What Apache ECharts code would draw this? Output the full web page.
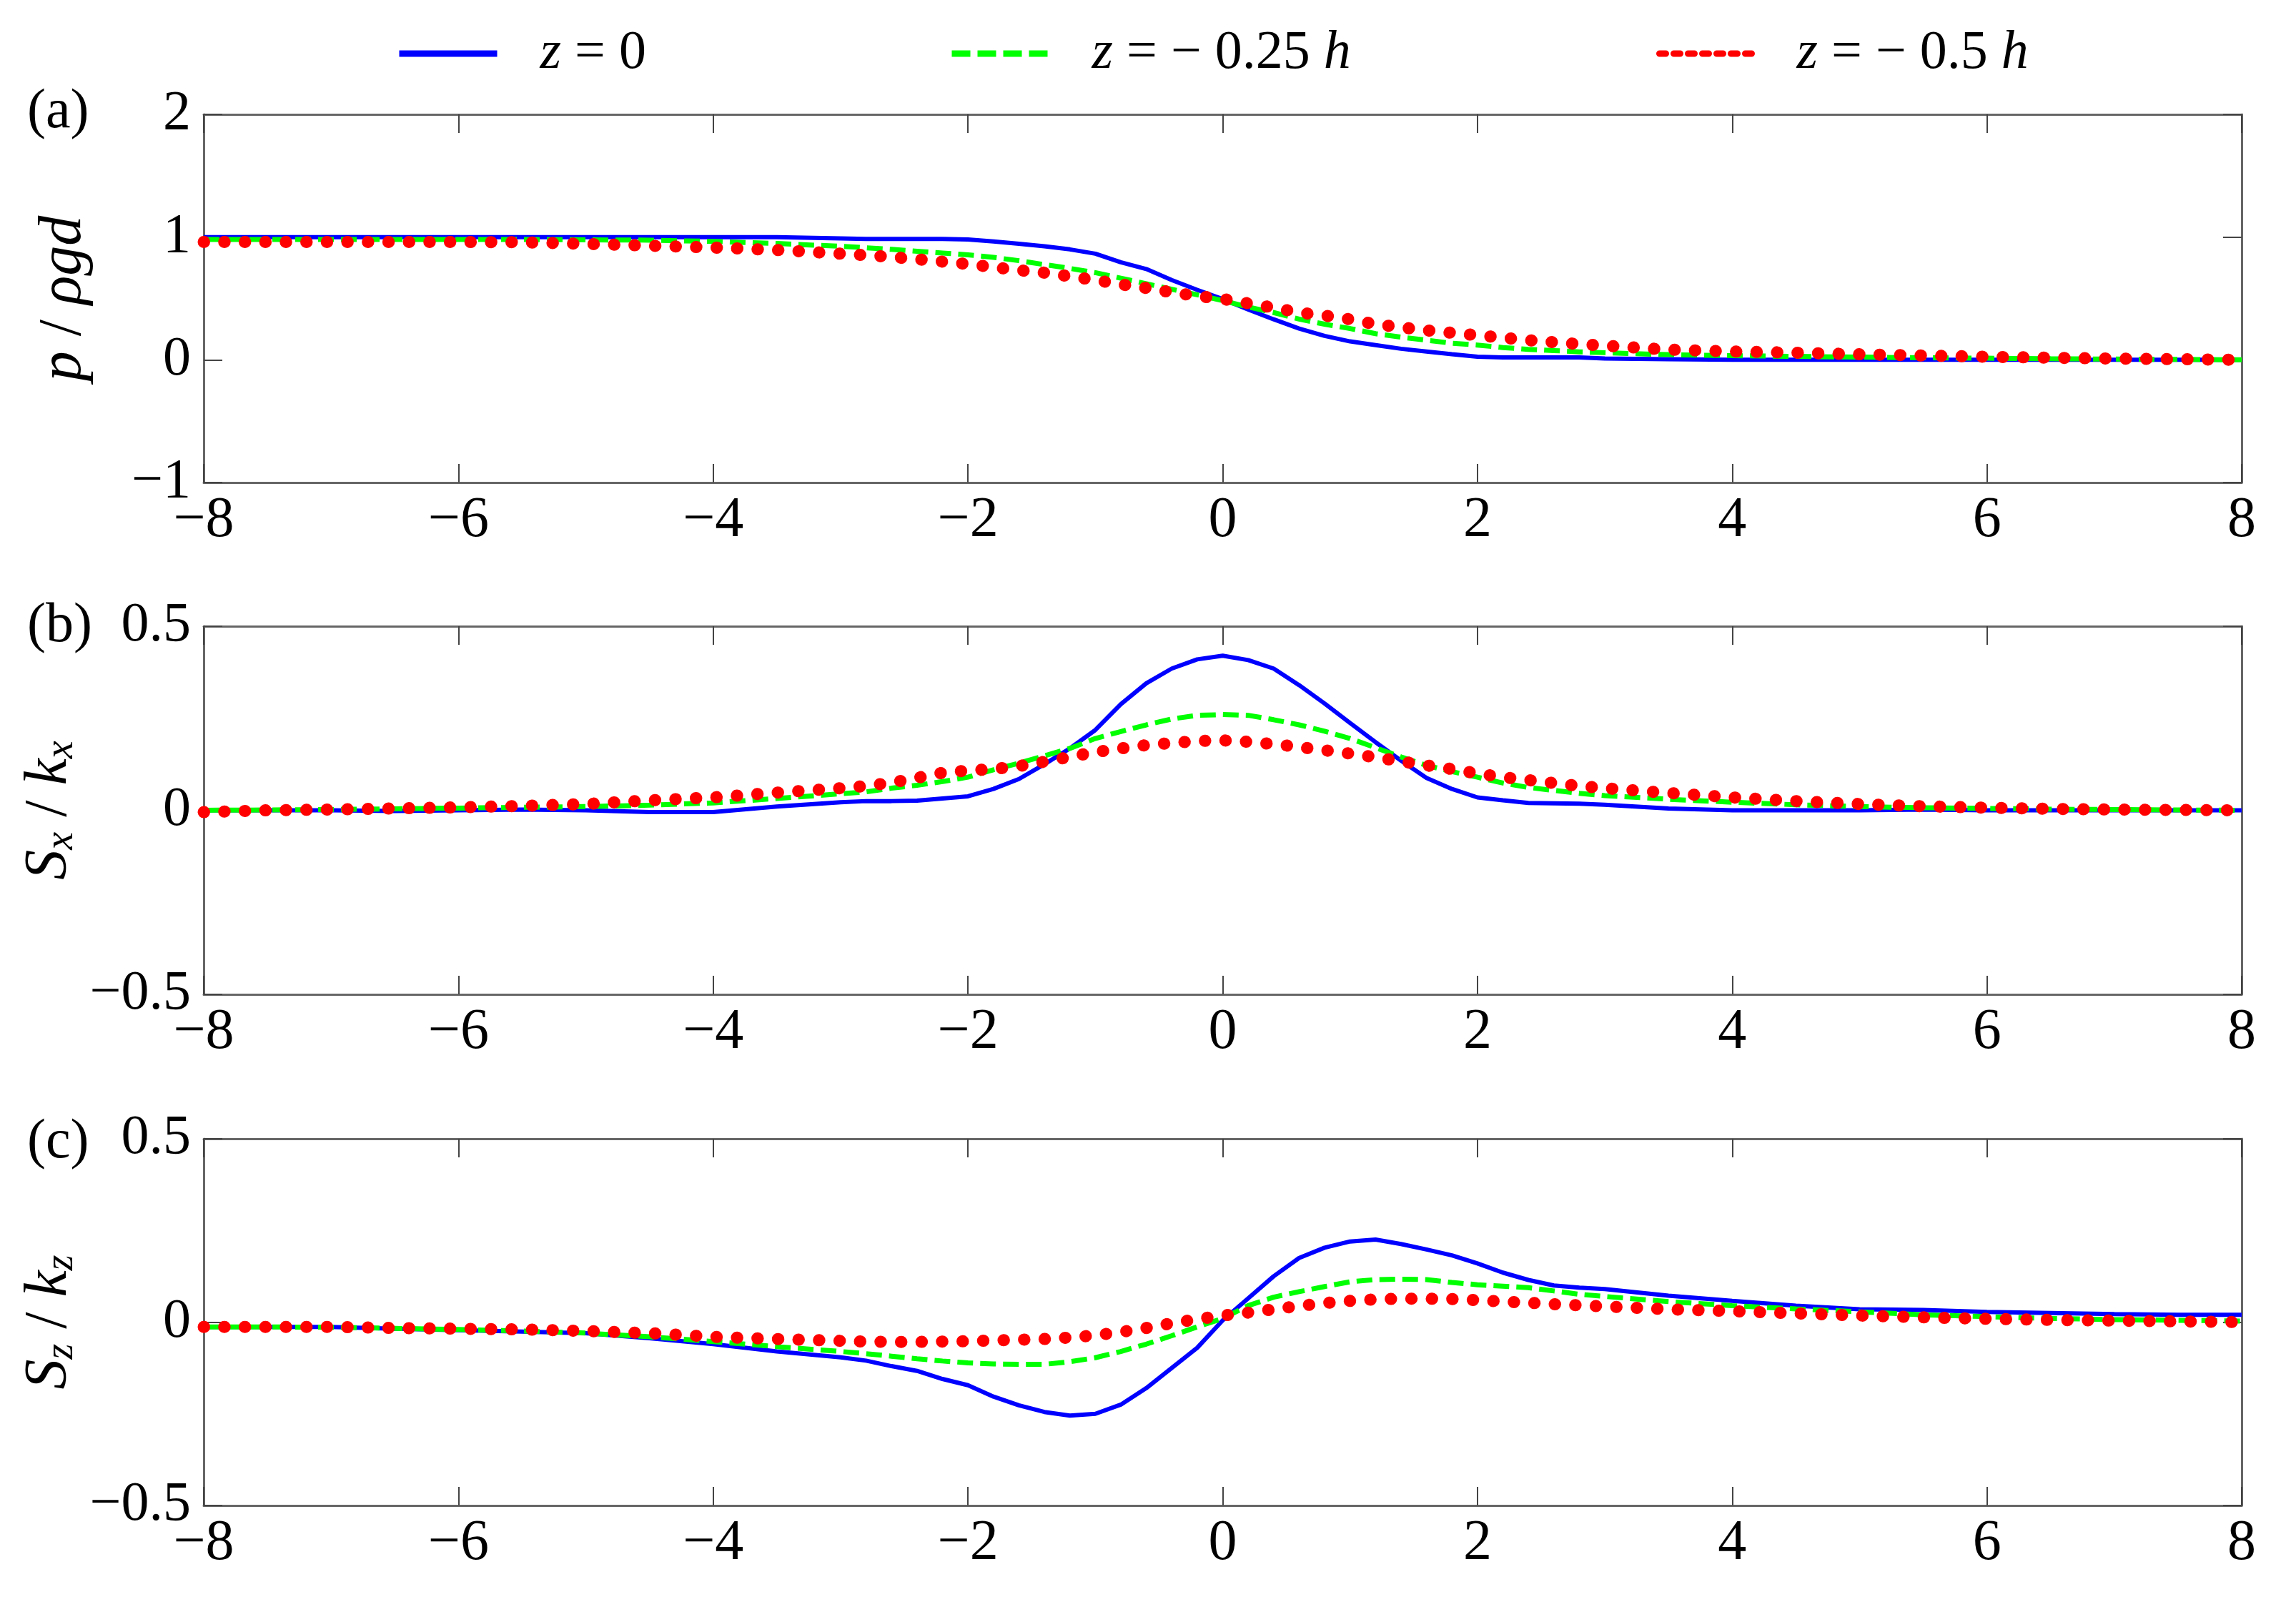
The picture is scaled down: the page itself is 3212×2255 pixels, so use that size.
<!DOCTYPE html>
<html>
<head>
<meta charset="utf-8">
<script src="https://cdn.jsdelivr.net/npm/echarts@6/dist/echarts.min.js"></script>
<style>
  html, body { margin: 0; padding: 0; background: #fff; }
  #main { width: 3212px; height: 2255px; }
</style>
</head>
<body>
<div id="main"></div>
<script>
// x positions shared by every curve
var xs = [-8, -7.5, -7, -6.5, -6, -5.5, -5, -4.5, -4, -3.5, -3,
  -2.8, -2.6, -2.4, -2.2, -2, -1.8, -1.6, -1.4, -1.2, -1, -0.8, -0.6, -0.4, -0.2,
  0, 0.2, 0.4, 0.6, 0.8, 1, 1.2, 1.4, 1.6, 1.8, 2, 2.2, 2.4, 2.6, 2.8,
  3, 3.5, 4, 4.5, 5, 5.5, 6, 6.5, 7, 7.5, 8];

var seriesNames = ['z = 0', 'z = − 0.25 h', 'z = − 0.5 h'];

// (a) p / rho g d
var pSurf = [1, 1, 1, 1, 1, 1, 1, 1, 1, 1, 0.99,
  0.985, 0.985, 0.985, 0.985, 0.98, 0.965, 0.945, 0.925, 0.9, 0.865, 0.795, 0.74, 0.65, 0.57,
  0.495, 0.41, 0.33, 0.255, 0.195, 0.15, 0.12, 0.09, 0.068, 0.046, 0.025, 0.02, 0.02, 0.02, 0.02,
  0.01, 0.005, 0, 0, 0, 0, 0, 0, 0, 0, 0];
var pQuarter = [0.98, 0.98, 0.98, 0.98, 0.98, 0.98, 0.978, 0.975, 0.965, 0.948, 0.925,
  0.913, 0.9, 0.885, 0.87, 0.855, 0.835, 0.808, 0.776, 0.745, 0.71, 0.665, 0.62, 0.575, 0.53,
  0.483, 0.43, 0.385, 0.332, 0.29, 0.255, 0.213, 0.185, 0.16, 0.135, 0.12, 0.1, 0.085, 0.075, 0.065,
  0.058, 0.042, 0.034, 0.028, 0.022, 0.017, 0.013, 0.009, 0.006, 0.003, 0];
var pHalf = [0.96, 0.96, 0.96, 0.96, 0.96, 0.958, 0.945, 0.93, 0.915, 0.895, 0.865,
  0.852, 0.838, 0.82, 0.8, 0.78, 0.755, 0.73, 0.71, 0.68, 0.65, 0.615, 0.585, 0.55, 0.52,
  0.496, 0.46, 0.425, 0.385, 0.36, 0.33, 0.29, 0.265, 0.24, 0.22, 0.2, 0.18, 0.16, 0.143, 0.128,
  0.115, 0.083, 0.068, 0.058, 0.045, 0.035, 0.025, 0.017, 0.01, 0.005, 0];

// (b) Sx / kx
var sxSurf = [0, 0, 0, -0.002, 0, 0.002, 0, -0.005, -0.005, 0.01, 0.022,
  0.025, 0.025, 0.026, 0.032, 0.038, 0.058, 0.085, 0.125, 0.168, 0.218, 0.288, 0.345, 0.385, 0.41,
  0.42, 0.408, 0.385, 0.34, 0.29, 0.237, 0.185, 0.135, 0.088, 0.058, 0.035, 0.027, 0.02, 0.019, 0.018,
  0.015, 0.005, 0, 0, 0, 0.002, 0, 0, 0, 0, 0];
var sxQuarter = [0, 0.001, 0.002, 0.004, 0.006, 0.008, 0.01, 0.014, 0.02, 0.032, 0.045,
  0.05, 0.06, 0.068, 0.078, 0.09, 0.11, 0.128, 0.148, 0.168, 0.195, 0.214, 0.232, 0.248, 0.258,
  0.26, 0.258, 0.246, 0.232, 0.215, 0.195, 0.17, 0.145, 0.122, 0.105, 0.09, 0.074, 0.062, 0.054, 0.046,
  0.04, 0.03, 0.022, 0.015, 0.01, 0.007, 0.005, 0.003, 0.002, 0.001, 0];
var sxHalf = [-0.005, 0, 0.002, 0.005, 0.008, 0.012, 0.017, 0.027, 0.035, 0.048, 0.06,
  0.066, 0.075, 0.088, 0.102, 0.108, 0.112, 0.12, 0.132, 0.145, 0.158, 0.168, 0.177, 0.183, 0.188,
  0.19, 0.186, 0.18, 0.172, 0.163, 0.154, 0.144, 0.133, 0.122, 0.112, 0.1, 0.09, 0.082, 0.074, 0.066,
  0.06, 0.047, 0.035, 0.025, 0.017, 0.011, 0.007, 0.004, 0.002, 0.001, 0];

// (c) Sz / kz
var szSurf = [-0.013, -0.013, -0.013, -0.018, -0.022, -0.026, -0.03, -0.044, -0.06, -0.08, -0.096,
  -0.105, -0.12, -0.133, -0.155, -0.172, -0.203, -0.227, -0.245, -0.255, -0.25, -0.225, -0.18, -0.125, -0.07,
  0.005, 0.065, 0.125, 0.175, 0.203, 0.22, 0.225, 0.213, 0.198, 0.182, 0.16, 0.135, 0.115, 0.1, 0.094,
  0.09, 0.072, 0.058, 0.045, 0.035, 0.033, 0.028, 0.025, 0.022, 0.02, 0.02];
var szQuarter = [-0.013, -0.013, -0.014, -0.017, -0.02, -0.024, -0.03, -0.04, -0.053, -0.067, -0.08,
  -0.086, -0.093, -0.1, -0.106, -0.111, -0.114, -0.115, -0.115, -0.108, -0.097, -0.08, -0.06, -0.037, -0.013,
  0.01, 0.045, 0.068, 0.083, 0.097, 0.11, 0.116, 0.117, 0.116, 0.108, 0.102, 0.098, 0.094, 0.085, 0.076,
  0.07, 0.056, 0.045, 0.036, 0.028, 0.02, 0.015, 0.01, 0.007, 0.005, 0.003];
var szHalf = [-0.013, -0.013, -0.013, -0.016, -0.018, -0.02, -0.024, -0.03, -0.04, -0.046, -0.051,
  -0.053, -0.054, -0.054, -0.053, -0.052, -0.05, -0.048, -0.046, -0.042, -0.036, -0.027, -0.016, -0.003, 0.008,
  0.018, 0.026, 0.035, 0.044, 0.052, 0.058, 0.062, 0.064, 0.064, 0.063, 0.06, 0.056, 0.053, 0.049, 0.046,
  0.043, 0.035, 0.03, 0.024, 0.018, 0.013, 0.009, 0.006, 0.004, 0.002, 0];

var xTicks = { min: -8, max: 8, interval: 2 };
var yTicksA = { min: -1, max: 2, interval: 1 };
var yTicksB = { min: -0.5, max: 0.5, interval: 0.5 };

var FONT = '"Liberation Serif", "DejaVu Serif", serif';
var frameColor = '#666';

function fmt(v) {
    return v < 0 ? '\u2212' + Math.abs(v) : String(v);
}

function pairs(ys) {
    return xs.map(function (x, i) { return [x, ys[i]]; });
}

var nameRich = {
    i: { fontFamily: FONT, fontStyle: 'italic', fontSize: 84, lineHeight: 90, color: '#000' },
    s: { fontFamily: FONT, fontStyle: 'italic', fontSize: 56, lineHeight: 40, verticalAlign: 'bottom', color: '#000' }
};

var grids = [
    { left: 285, top: 160, width: 2851, height: 515 },
    { left: 285, top: 876, width: 2851, height: 515 },
    { left: 285, top: 1593, width: 2851, height: 513 }
];

var xAxes = [];
var yAxes = [];
grids.forEach(function (g, gi) {
    // bottom x axis with labels, top one only for ticks
    ['bottom', 'top'].forEach(function (pos) {
        xAxes.push({
            type: 'value', gridIndex: gi, position: pos,
            min: xTicks.min, max: xTicks.max, interval: xTicks.interval,
            axisLine: { show: true, onZero: false, lineStyle: { color: frameColor, width: 3 } },
            axisTick: { show: true, inside: true, length: 26, lineStyle: { color: '#444', width: 2 } },
            axisLabel: {
                show: pos === 'bottom', margin: 14, formatter: fmt,
                fontFamily: FONT, fontSize: 80, color: '#000'
            },
            splitLine: { show: false }
        });
    });
    var yt = gi === 0 ? yTicksA : yTicksB;
    var names = ['{i|p} / {i|ρgd}', '{i|S}{s|x} / {i|k}{s|x}', '{i|S}{s|z} / {i|k}{s|z}'];
    ['left', 'right'].forEach(function (pos) {
        yAxes.push({
            type: 'value', gridIndex: gi, position: pos,
            min: yt.min, max: yt.max, interval: yt.interval,
            name: pos === 'left' ? names[gi] : '',
            nameLocation: 'middle', nameGap: 150, nameRotate: 90,
            nameTextStyle: { fontFamily: FONT, fontSize: 84, lineHeight: 90, color: '#000', rich: nameRich },
            axisLine: { show: true, onZero: false, lineStyle: { color: frameColor, width: 3 } },
            axisTick: { show: true, inside: true, length: 26, lineStyle: { color: '#444', width: 2 } },
            axisLabel: {
                show: pos === 'left', margin: 18, formatter: fmt,
                fontFamily: FONT, fontSize: 78, color: '#000'
            },
            splitLine: { show: false }
        });
    });
});

var panelData = [
    [pSurf, pQuarter, pHalf],
    [sxSurf, sxQuarter, sxHalf],
    [szSurf, szQuarter, szHalf]
];

var lineStyles = [
    { color: '#0000ff', width: 6, type: 'solid' },
    { color: '#00ff00', width: 7, type: [22, 10] },
    { color: '#ff0000', width: 17, type: [0.5, 28.2], cap: 'round' }
];

var series = [];
panelData.forEach(function (set, gi) {
    set.forEach(function (ys, k) {
        series.push({
            name: seriesNames[k],
            type: 'line',
            xAxisIndex: gi * 2,
            yAxisIndex: gi * 2,
            data: pairs(ys),
            symbol: 'none',
            clip: false,
            animation: false,
            lineStyle: lineStyles[k],
            z: 2 + k
        });
    });
});

// legend: one small legend per curve so each sits where the original has it
var legendText = ['{gap|}{i|z} = 0', '{gap|}{i|z} = − 0.25 {i|h}', '{gap|}{i|z} = − 0.5 {i|h}'];
var legendLeft = [549, 1322, 2312];
var legendLine = [
    { color: '#0000ff', width: 9, type: 'solid' },
    { color: '#00ff00', width: 9, type: [26, 10] },
    { color: '#ff0000', width: 9, type: [9, 11] }
];
var legendIcon = [137, 136, 132];
var legends = seriesNames.map(function (n, k) {
    return {
        data: [n],
        left: legendLeft[k],
        top: 30,
        itemWidth: legendIcon[k],
        itemHeight: 9,
        selectedMode: false,
        itemStyle: { opacity: 0 },
        lineStyle: legendLine[k],
        formatter: function () { return legendText[k]; },
        textStyle: {
            fontFamily: FONT, fontSize: 76, lineHeight: 80, color: '#000',
            rich: {
                gap: { width: 55 },
                i: { fontFamily: FONT, fontStyle: 'italic', fontSize: 76, lineHeight: 80, color: '#000' }
            }
        }
    };
});

var panelLabels = ['(a)', '(b)', '(c)'];
var labelTops = [119, 838, 1560];
var graphics = panelLabels.map(function (t, i) {
    return {
        type: 'text', left: 38, top: labelTops[i],
        style: { text: t, font: '78px "Liberation Serif", serif', fill: '#000' }
    };
});

var chart = echarts.init(document.getElementById('main'), null, { renderer: 'canvas' });
chart.setOption({
    backgroundColor: '#fff',
    animation: false,
    grid: grids,
    xAxis: xAxes,
    yAxis: yAxes,
    legend: legends,
    graphic: graphics,
    series: series
});
</script>
</body>
</html>
